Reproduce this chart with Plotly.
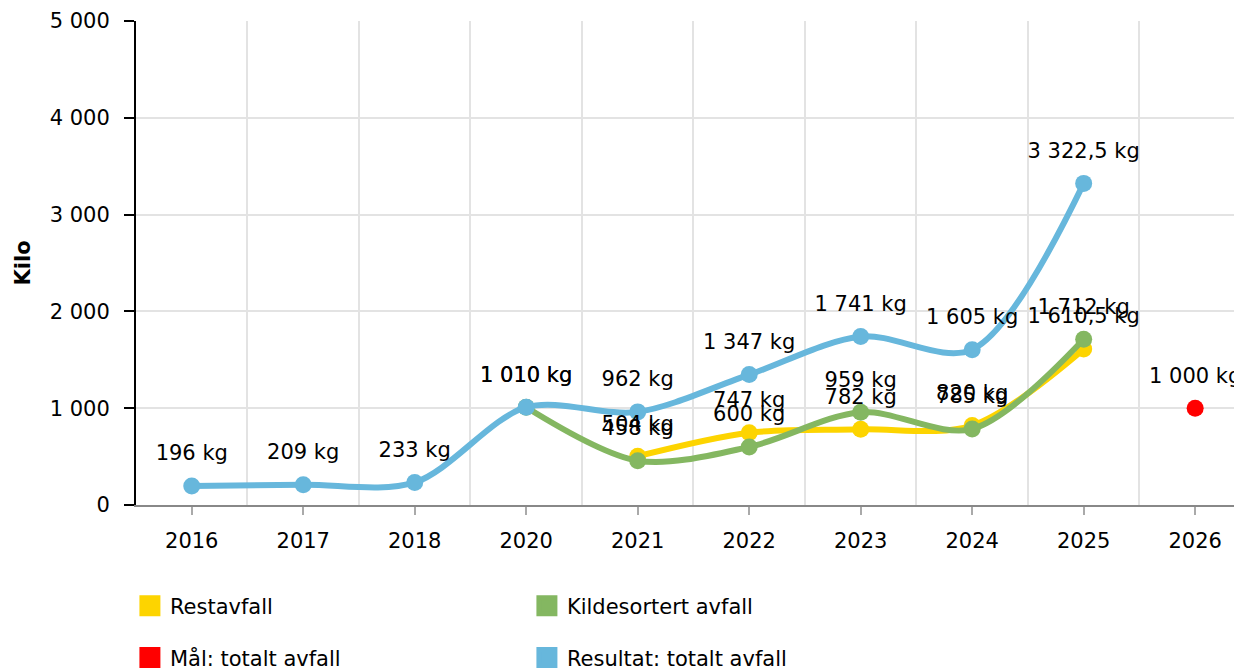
import plotly.graph_objects as go

# ---- data ----
categories = ["2016", "2017", "2018", "2020", "2021", "2022", "2023", "2024", "2025", "2026"]

rest_years = ["2021", "2022", "2023", "2024", "2025"]
rest_values = [504, 747, 782, 820, 1610.5]

kilde_years = ["2020", "2021", "2022", "2023", "2024", "2025"]
kilde_values = [1010, 458, 600, 959, 785, 1712]

total_years = ["2016", "2017", "2018", "2020", "2021", "2022", "2023", "2024", "2025"]
total_values = [196, 209, 233, 1010, 962, 1347, 1741, 1605, 3322.5]

goal_years = ["2026"]
goal_values = [1000]

series_names = ["Restavfall", "Kildesortert avfall", "Mål: totalt avfall", "Resultat: totalt avfall"]
colors = {"rest": "#FDD400", "kilde": "#84B761", "goal": "#FF0000", "total": "#67B7DC"}


def fmt(v):
    if float(v).is_integer():
        s = f"{int(v):,}".replace(",", " ")
    else:
        s = f"{v:,.1f}".replace(",", " ").replace(".", ",")
    return s + " kg"


FONT = "DejaVu Sans"
FS = 21
fig = go.Figure()


def line_trace(xs, ys, color, name, mode="lines+markers", xaxis="x"):
    return go.Scatter(
        x=xs, y=ys, name=name, mode=mode, xaxis=xaxis,
        line=dict(color=color, width=6, shape="spline", smoothing=0.9),
        marker=dict(color=color, size=17),
        showlegend=False, cliponaxis=False, hoverinfo="x+y+name",
    )


def label_trace(xs, ys, name, xaxis="x"):
    # invisible, larger marker only so that the label sits a bit higher above the point
    return go.Scatter(
        x=xs, y=ys, name=name, mode="markers+text", xaxis=xaxis,
        marker=dict(color="rgba(0,0,0,0)", size=31),
        text=[fmt(v) for v in ys], textposition="top center",
        textfont=dict(family=FONT, size=FS, color="#000"),
        showlegend=False, cliponaxis=False, hoverinfo="skip",
    )


fig.add_trace(line_trace(rest_years, rest_values, colors["rest"], series_names[0]))
fig.add_trace(line_trace(kilde_years, kilde_values, colors["kilde"], series_names[1]))
fig.add_trace(line_trace(total_years, total_values, colors["total"], series_names[3]))
fig.add_trace(line_trace(goal_years, goal_values, colors["goal"], series_names[2], mode="markers", xaxis="x2"))

fig.add_trace(label_trace(rest_years, rest_values, series_names[0]))
fig.add_trace(label_trace(kilde_years, kilde_values, series_names[1]))
fig.add_trace(label_trace(total_years, total_values, series_names[3]))
fig.add_trace(label_trace(goal_years, goal_values, series_names[2], xaxis="x2"))

# legend swatches
legend_items = [
    (series_names[0], colors["rest"], "legend"),
    (series_names[1], colors["kilde"], "legend"),
    (series_names[2], colors["goal"], "legend2"),
    (series_names[3], colors["total"], "legend2"),
]
for name, col, lg in legend_items:
    fig.add_trace(go.Scatter(
        x=[None], y=[None], mode="markers", name=name,
        marker=dict(symbol="square", size=24, color=col, line=dict(color=col, width=5)),
        legend=lg, showlegend=True,
    ))

xrange = [-0.5, 9.42]
legend_common = dict(
    orientation="h", xanchor="left", yanchor="middle", x=-0.0055,
    entrywidth=352, entrywidthmode="pixels",
    font=dict(family=FONT, size=FS, color="#000"),
    bgcolor="rgba(0,0,0,0)", itemclick=False, itemdoubleclick=False,
)

fig.update_layout(
    width=1234, height=664,
    margin=dict(l=128, r=0, t=13, b=167, autoexpand=False),
    paper_bgcolor="white", plot_bgcolor="white",
    font=dict(family=FONT, size=FS, color="#000"),
    separators=", ",
    xaxis=dict(
        type="category", categoryorder="array", categoryarray=categories,
        range=xrange, showgrid=False, zeroline=False, automargin=False,
        ticks="outside", ticklen=8, tickwidth=2, tickcolor="#aaaaaa",
        showline=True, linecolor="#888888", linewidth=2,
        tickfont=dict(family=FONT, size=FS, color="#000"),
        ticklabelstandoff=8,
    ),
    xaxis2=dict(
        type="category", categoryorder="array", categoryarray=categories,
        overlaying="x", anchor="y", side="bottom", range=xrange, automargin=False,
        tickson="boundaries", showgrid=True, gridcolor="#e3e3e3", gridwidth=2,
        showticklabels=False, ticks="", showline=False, zeroline=False,
    ),
    yaxis=dict(
        range=[0, 5000], dtick=1000, tickformat=",", automargin=False,
        showgrid=True, gridcolor="#e3e3e3", gridwidth=2, zeroline=False,
        showline=True, linecolor="#000", linewidth=2,
        ticks="outside", ticklen=10, tickwidth=2, tickcolor="#000",
        tickfont=dict(family=FONT, size=FS, color="#000"),
        ticklabelstandoff=10,
        title=dict(text="<b>Kilo</b>", font=dict(family=FONT, size=FS, color="#000"), standoff=13),
    ),
    legend=dict(y=-0.209, **legend_common),
    legend2=dict(y=-0.316, **legend_common),
)

fig.write_html("out.html")
